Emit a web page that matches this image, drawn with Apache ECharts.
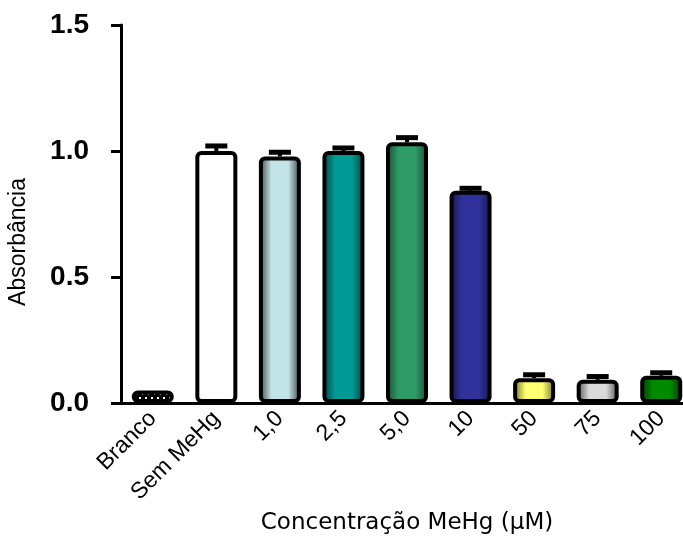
<!DOCTYPE html>
<html>
<head>
<meta charset="utf-8">
<script src="https://cdn.jsdelivr.net/npm/echarts@6/dist/echarts.min.js"></script>
<style>html,body{margin:0;padding:0;background:#fff;}#c{width:683px;height:537px;}</style>
</head>
<body>
<div id="c"></div>
<script>
var categories = ['Branco', 'Sem MeHg', '1,0', '2,5', '5,0', '10', '50', '75', '100'];
var means = [0.05, 1.0, 0.978, 1.0, 1.035, 0.842, 0.098, 0.092, 0.108];
var errors = [0.0, 0.02, 0.017, 0.012, 0.018, 0.01, 0.014, 0.013, 0.012];
var yTicks = [0, 0.5, 1.0, 1.5];
var centerColors = ['#000000', '#ffffff', '#c2e4e8', '#009b95', '#2f9c68', '#31319c', '#ffff72', '#dadada', '#008a00'];
var edgeColors = ['#000000', '#ffffff', '#3c3c3c', '#003f3c', '#184a32', '#14144a', '#6b6b20', '#505050', '#003800'];

function makePattern() {
  var c = document.createElement('canvas');
  c.width = 6; c.height = 6;
  var g = c.getContext('2d');
  g.fillStyle = '#000'; g.fillRect(0, 0, 6, 6);
  g.fillStyle = '#fff';
  g.fillRect(1, 1, 2, 2); g.fillRect(4, 4, 1, 1);
  return c;
}

function fillFor(i) {
  if (i === 0) return { image: makePattern(), repeat: 'repeat' };
  if (i === 1) return '#ffffff';
  return new echarts.graphic.LinearGradient(0, 0, 1, 0, [
    { offset: 0, color: edgeColors[i] },
    { offset: 0.3, color: centerColors[i] },
    { offset: 0.7, color: centerColors[i] },
    { offset: 1, color: edgeColors[i] }
  ]);
}

var barData = means.map(function (v, i) {
  return { value: v, itemStyle: { color: fillFor(i) } };
});
var errData = means.map(function (v, i) { return [i, v, v + errors[i]]; });

var chart = echarts.init(document.getElementById('c'), null, { renderer: 'canvas' });
chart.setOption({
  animation: false,
  backgroundColor: '#ffffff',
  grid: { left: 121, top: 25, width: 572, height: 378, containLabel: false, outerBoundsMode: 'none' },
  xAxis: {
    type: 'category',
    data: categories,
    name: 'Concentração MeHg (µM)',
    nameLocation: 'middle',
    nameGap: 107,
    nameTextStyle: { fontFamily: 'DejaVu Sans', fontSize: 23, color: '#000' },
    axisLine: { lineStyle: { color: '#000', width: 3 } },
    axisTick: { alignWithLabel: true, length: 10, lineStyle: { color: '#000', width: 3 } },
    axisLabel: { rotate: 45, margin: 12, fontFamily: 'Liberation Sans, Arial', fontSize: 23, color: '#000' }
  },
  yAxis: {
    type: 'value',
    min: 0, max: 1.5, interval: 0.5,
    axisLine: { show: true, lineStyle: { color: '#000', width: 3 } },
    axisTick: { show: true, length: 10, lineStyle: { color: '#000', width: 3 } },
    splitLine: { show: false },
    axisLabel: {
      margin: 32, fontFamily: 'Liberation Sans, Arial', fontSize: 28, fontWeight: 'bold', color: '#000',
      formatter: function (v) { return v.toFixed(1); }
    }
  },
  graphic: [{
    type: 'text', x: 19, y: 242, rotation: Math.PI / 2,
    style: { text: 'Absorbância', font: '23px "Liberation Sans", Arial', fill: '#000', align: 'center', verticalAlign: 'middle' }
  }],
  series: [{
    type: 'bar',
    data: barData,
    barWidth: 42,
    itemStyle: { borderColor: '#000', borderWidth: 4, borderRadius: 4 },
    z: 2
  }, {
    type: 'custom',
    data: errData,
    z: 3,
    renderItem: function (params, api) {
      var i = api.value(0);
      if (errors[i] <= 0) return null;
      var p0 = api.coord([i, api.value(1)]);
      var p1 = api.coord([i, api.value(2)]);
      var hw = 11;
      return {
        type: 'group',
        children: [
          { type: 'line', shape: { x1: p0[0], y1: p0[1], x2: p1[0], y2: p1[1] }, style: { stroke: '#000', lineWidth: 4 } },
          { type: 'rect', shape: { x: p1[0] - hw, y: p1[1] - 2.5, width: hw * 2, height: 5 }, style: { fill: '#000' } }
        ]
      };
    }
  }]
});
</script>
</body>
</html>
